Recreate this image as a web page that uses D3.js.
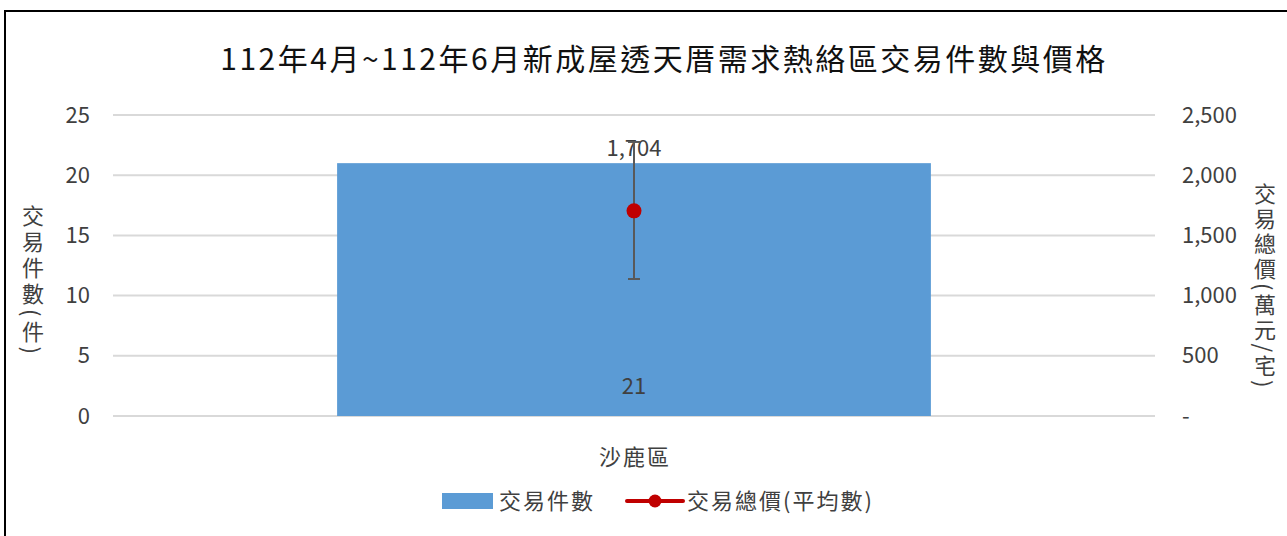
<!DOCTYPE html>
<html>
<head>
    <meta charset="utf-8">
    <title>沙鹿區交易件數與價格</title>
    <script src="https://d3js.org/d3.v7.min.js"></script>
    <style>
        body { margin: 0; background: #fff; }
        text { font-family: "Noto Sans CJK TC", "Noto Sans", sans-serif; fill: #404040; }
        .title { font-size: 30px; fill: #111; letter-spacing: 2.5px; }
        .tick text { font-size: 22px; }
        .lbl { font-size: 22px; letter-spacing: 2px; }
        .num { font-size: 22px; }
        .vlabel { font-size: 22px; writing-mode: vertical-rl; letter-spacing: 4px; }
    </style>
</head>
<body>
<svg width="1287" height="536"></svg>
<script>
    // data
    var categories = ["沙鹿區"];
    var counts = [21];              // 交易件數
    var avgPrice = [1704];          // 交易總價(平均數)
    var priceLow = [1138];          // error bar low
    var priceHigh = [2276];         // error bar high
    var leftTicks = [0, 5, 10, 15, 20, 25];
    var rightTicks = [0, 500, 1000, 1500, 2000, 2500];

    var svg = d3.select("svg");

    // chart frame
    svg.append("rect")
        .attr("x", 5).attr("y", 11)
        .attr("width", 1290).attr("height", 540)
        .attr("fill", "none").attr("stroke", "#000").attr("stroke-width", 2);

    svg.append("text").attr("class", "title")
        .attr("x", 664).attr("y", 70)
        .attr("text-anchor", "middle")
        .text("112年4月~112年6月新成屋透天厝需求熱絡區交易件數與價格");

    var pLeft = 113, pRight = 1155, pTop = 115, pBottom = 416;

    var x = d3.scaleBand().domain(categories).range([pLeft, pRight]).padding(0.274);
    var yL = d3.scaleLinear().domain([0, 25]).range([pBottom, pTop]);
    var yR = d3.scaleLinear().domain([0, 2500]).range([pBottom, pTop]);
    var cx = d => x(d) + x.bandwidth() / 2;

    // gridlines
    svg.append("g").selectAll("line").data(leftTicks).join("line")
        .attr("x1", pLeft).attr("x2", pRight)
        .attr("y1", d => yL(d)).attr("y2", d => yL(d))
        .attr("stroke", "#d9d9d9").attr("stroke-width", 2);

    // left axis
    var gl = svg.append("g").attr("transform", "translate(" + pLeft + ",0)")
        .call(d3.axisLeft(yL).tickValues(leftTicks).tickSize(0).tickPadding(23));
    gl.select(".domain").remove();

    // right axis
    var gr = svg.append("g").attr("transform", "translate(" + pRight + ",0)")
        .call(d3.axisRight(yR).tickValues(rightTicks).tickSize(0).tickPadding(27)
            .tickFormat(d => d === 0 ? "-" : d3.format(",")(d)));
    gr.select(".domain").remove();
    svg.selectAll(".tick text").attr("fill", "#404040")
        .attr("font-family", "'Noto Sans CJK TC', sans-serif").attr("font-size", 22);

    // axis titles
    svg.append("text").attr("class", "vlabel")
        .attr("x", 33).attr("y", 205)
        .text("交易件數(件)");
    svg.append("text").attr("class", "vlabel")
        .attr("x", 1265).attr("y", 183)
        .style("letter-spacing", "3px")
        .text("交易總價(萬元/宅)");

    // bars
    svg.append("g").selectAll("rect").data(categories).join("rect")
        .attr("x", d => x(d)).attr("width", x.bandwidth())
        .attr("y", (d, i) => yL(counts[i]))
        .attr("height", (d, i) => yL(0) - yL(counts[i]))
        .attr("fill", "#5b9bd5");

    svg.append("g").selectAll("text").data(categories).join("text")
        .attr("class", "num")
        .attr("x", cx).attr("y", 394)
        .attr("text-anchor", "middle")
        .text((d, i) => counts[i]);

    // category labels
    svg.append("g").selectAll("text").data(categories).join("text")
        .attr("class", "lbl")
        .attr("x", d => cx(d) + 1).attr("y", 465)
        .attr("text-anchor", "middle")
        .text(d => d);

    // price label (sits under the error bar)
    svg.append("g").selectAll("text").data(categories).join("text")
        .attr("class", "num")
        .attr("x", cx).attr("y", 156)
        .attr("text-anchor", "middle")
        .text((d, i) => d3.format(",")(avgPrice[i]));

    // error bars
    var eb = svg.append("g").selectAll("g").data(categories).join("g")
        .attr("stroke", "#595959").attr("stroke-width", 2);
    eb.append("line")
        .attr("x1", cx).attr("x2", cx)
        .attr("y1", (d, i) => yR(priceLow[i])).attr("y2", (d, i) => yR(priceHigh[i]));
    eb.append("line")
        .attr("x1", d => cx(d) - 6).attr("x2", d => cx(d) + 6)
        .attr("y1", (d, i) => yR(priceLow[i])).attr("y2", (d, i) => yR(priceLow[i]));
    eb.append("line")
        .attr("x1", d => cx(d) - 6).attr("x2", d => cx(d) + 6)
        .attr("y1", (d, i) => yR(priceHigh[i])).attr("y2", (d, i) => yR(priceHigh[i]));

    // price points
    svg.append("g").selectAll("circle").data(categories).join("circle")
        .attr("cx", cx)
        .attr("cy", (d, i) => yR(avgPrice[i]))
        .attr("r", 7.5)
        .attr("fill", "#c00000");

    // legend
    var lg = svg.append("g");
    lg.append("rect").attr("x", 442).attr("y", 493).attr("width", 51).attr("height", 16).attr("fill", "#5b9bd5");
    lg.append("text").attr("class", "lbl").attr("x", 499).attr("y", 509).text("交易件數");
    lg.append("line").attr("x1", 627).attr("x2", 683).attr("y1", 501).attr("y2", 501)
        .attr("stroke", "#c00000").attr("stroke-width", 4).attr("stroke-linecap", "round");
    lg.append("circle").attr("cx", 655).attr("cy", 501).attr("r", 6.5).attr("fill", "#c00000");
    lg.append("text").attr("class", "lbl").attr("x", 687).attr("y", 509).text("交易總價(平均數)");
</script>
</body>
</html>
